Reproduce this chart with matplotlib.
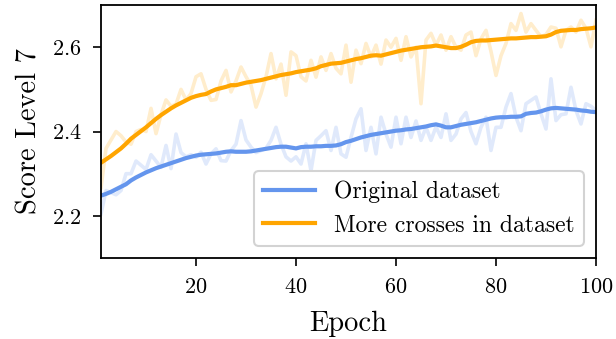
import numpy as np
import matplotlib
matplotlib.use("Agg")
from matplotlib import pyplot as plt

plt.rcParams['font.family'] = 'serif'
plt.rcParams['font.serif'] = ['cmr10', 'DejaVu Serif']
plt.rcParams['mathtext.fontset'] = 'cm'
plt.rcParams['axes.formatter.use_mathtext'] = True

epochs = np.arange(1, 101)

# raw scores (faint lines)
orig_raw = [
    2.205, 2.260, 2.255, 2.250, 2.260, 2.300, 2.300, 2.330, 2.320, 2.310,
    2.345, 2.330, 2.315, 2.367, 2.312, 2.394, 2.350, 2.340, 2.345, 2.339,
    2.351, 2.323, 2.347, 2.359, 2.331, 2.330, 2.355, 2.370, 2.426, 2.380,
    2.363, 2.350, 2.355, 2.360, 2.379, 2.410, 2.370, 2.340, 2.330, 2.340,
    2.323, 2.371, 2.307, 2.379, 2.390, 2.402, 2.355, 2.410, 2.347, 2.339,
    2.386, 2.430, 2.454, 2.355, 2.410, 2.347, 2.434, 2.394, 2.363, 2.434,
    2.371, 2.434, 2.386, 2.425, 2.379, 2.410, 2.379, 2.411, 2.386, 2.442,
    2.379, 2.394, 2.430, 2.445, 2.400, 2.371, 2.410, 2.434, 2.355, 2.410,
    2.410, 2.458, 2.490, 2.434, 2.402, 2.466, 2.474, 2.482, 2.442, 2.406,
    2.525, 2.426, 2.440, 2.442, 2.505, 2.450, 2.418, 2.466, 2.460, 2.450,
]
more_raw = [
    2.267, 2.360, 2.380, 2.400, 2.390, 2.375, 2.370, 2.400, 2.405, 2.400,
    2.455, 2.395, 2.440, 2.475, 2.460, 2.465, 2.500, 2.475, 2.490, 2.530,
    2.537, 2.500, 2.474, 2.476, 2.520, 2.545, 2.494, 2.520, 2.553, 2.530,
    2.510, 2.458, 2.490, 2.530, 2.585, 2.525, 2.560, 2.486, 2.589, 2.580,
    2.530, 2.520, 2.569, 2.529, 2.577, 2.545, 2.585, 2.550, 2.537, 2.605,
    2.517, 2.593, 2.561, 2.609, 2.577, 2.605, 2.560, 2.617, 2.600, 2.621,
    2.569, 2.625, 2.577, 2.600, 2.466, 2.617, 2.633, 2.605, 2.629, 2.593,
    2.625, 2.600, 2.593, 2.629, 2.636, 2.580, 2.620, 2.640, 2.590, 2.533,
    2.580, 2.609, 2.656, 2.640, 2.680, 2.636, 2.656, 2.640, 2.625, 2.630,
    2.648, 2.645, 2.601, 2.640, 2.648, 2.636, 2.664, 2.645, 2.601, 2.664,
]

# smoothed scores (bold lines)
orig_smooth = [
    2.248, 2.252, 2.257, 2.263, 2.269, 2.275, 2.284, 2.291, 2.297, 2.303,
    2.308, 2.313, 2.317, 2.321, 2.325, 2.329, 2.333, 2.337, 2.340, 2.343,
    2.345, 2.346, 2.347, 2.348, 2.350, 2.352, 2.353, 2.352, 2.352, 2.352,
    2.353, 2.355, 2.357, 2.359, 2.361, 2.363, 2.364, 2.364, 2.362, 2.360,
    2.363, 2.364, 2.364, 2.365, 2.365, 2.366, 2.366, 2.367, 2.370, 2.375,
    2.378, 2.382, 2.386, 2.389, 2.392, 2.394, 2.396, 2.398, 2.400, 2.402,
    2.403, 2.405, 2.406, 2.408, 2.410, 2.412, 2.415, 2.417, 2.414, 2.410,
    2.410, 2.413, 2.416, 2.418, 2.420, 2.422, 2.425, 2.428, 2.431, 2.433,
    2.434, 2.434, 2.435, 2.435, 2.436, 2.442, 2.444, 2.445, 2.448, 2.452,
    2.455, 2.456, 2.455, 2.454, 2.453, 2.452, 2.450, 2.449, 2.447, 2.446,
]
more_smooth = [
    2.326, 2.334, 2.342, 2.351, 2.360, 2.371, 2.383, 2.392, 2.401, 2.410,
    2.420, 2.430, 2.439, 2.447, 2.455, 2.462, 2.468, 2.474, 2.480, 2.484,
    2.487, 2.489, 2.495, 2.500, 2.503, 2.506, 2.510, 2.510, 2.513, 2.516,
    2.518, 2.520, 2.522, 2.525, 2.528, 2.531, 2.534, 2.536, 2.538, 2.541,
    2.543, 2.545, 2.547, 2.550, 2.555, 2.558, 2.561, 2.562, 2.563, 2.566,
    2.569, 2.572, 2.574, 2.577, 2.580, 2.581, 2.580, 2.583, 2.586, 2.589,
    2.592, 2.594, 2.596, 2.598, 2.600, 2.601, 2.602, 2.604, 2.602, 2.600,
    2.598, 2.598, 2.601, 2.606, 2.612, 2.615, 2.616, 2.616, 2.617, 2.618,
    2.619, 2.620, 2.621, 2.621, 2.622, 2.623, 2.624, 2.624, 2.625, 2.626,
    2.630, 2.636, 2.639, 2.640, 2.641, 2.641, 2.643, 2.644, 2.645, 2.647,
]

labels = ['Original dataset', 'More crosses in dataset']
colors = ['cornflowerblue', 'orange']

fig = plt.figure(figsize=(6.16, 3.39), dpi=100)
ax = fig.add_axes([0.164, 0.239, 0.8035, 0.746])

for raw, smooth, lab, col in [(orig_raw, orig_smooth, labels[0], colors[0]),
                              (more_raw, more_smooth, labels[1], colors[1])]:
    ax.plot(epochs, raw, color=col, alpha=0.2, lw=2.6)
    ax.plot(epochs, smooth, color=col, lw=3.0, label=lab)

ax.set_xlim(1, 100)
ax.set_ylim(2.1, 2.7)
ax.set_xticks([20, 40, 60, 80, 100])
ax.set_yticks([2.2, 2.4, 2.6])
ax.tick_params(labelsize=16, width=1.2, length=6, pad=8)
for s in ax.spines.values():
    s.set_linewidth(1.3)

ax.set_xlabel('Epoch', fontsize=20.5, labelpad=10)
ax.set_ylabel('Score Level 7', fontsize=20.5, labelpad=7)

leg = ax.legend(loc='lower right', fontsize=17, handlelength=2.2,
                borderaxespad=0.5, fancybox=True, framealpha=1.0,
                edgecolor='lightgray')
leg.get_frame().set_linewidth(1.5)

plt.savefig('out.png', dpi=100)
